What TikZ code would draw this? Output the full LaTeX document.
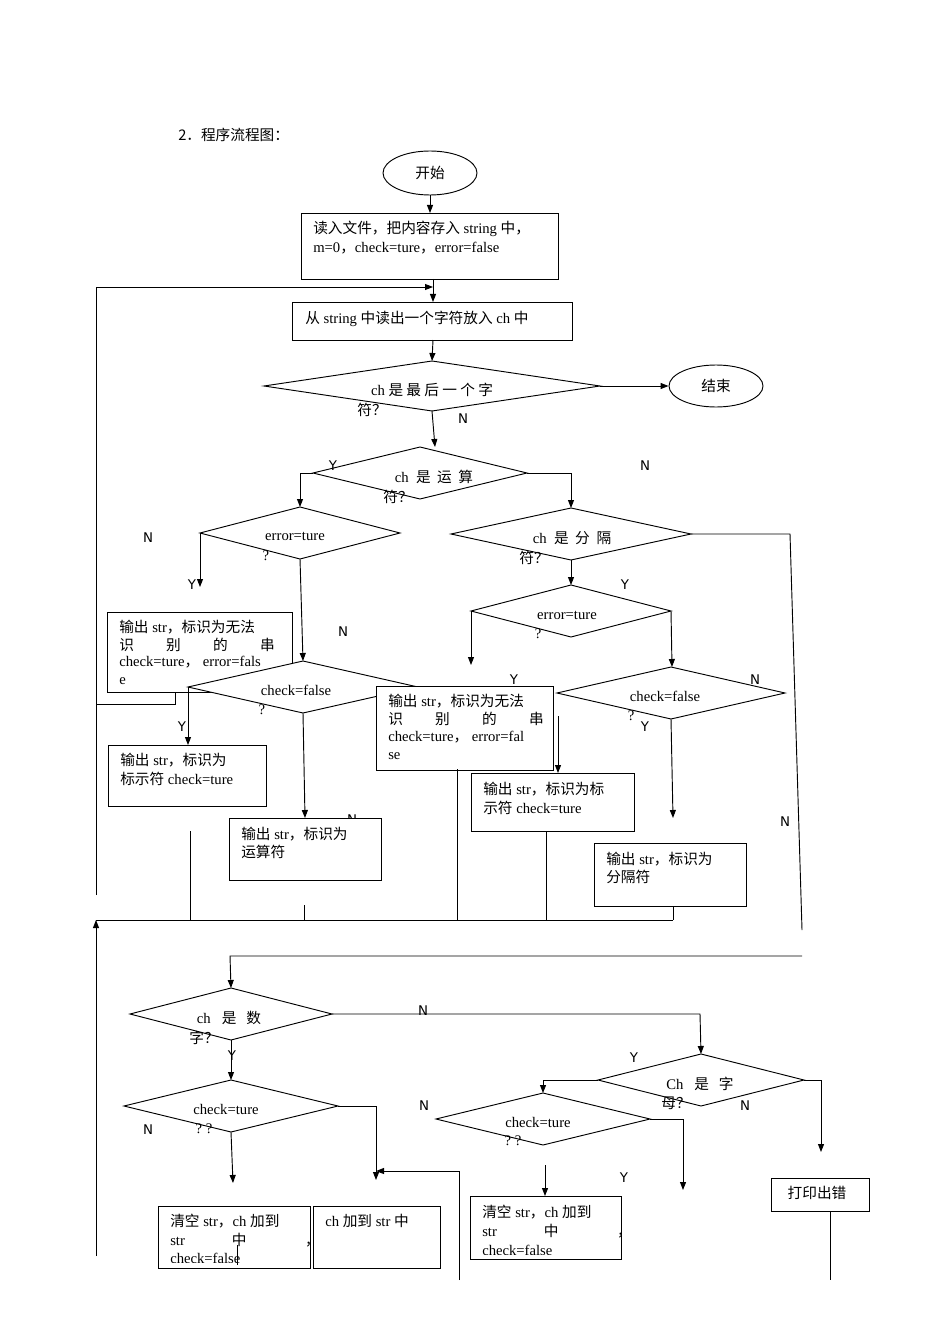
\documentclass[tikz,border=0pt]{standalone}
\usepackage{fontspec}
\setmainfont{Liberation Serif}
\newfontfamily\cjk{Noto Sans CJK SC}
\newfontfamily\lab{DejaVu Sans}
\usetikzlibrary{shapes.geometric,arrows.meta}
\newcommand\zh[1]{{\cjk #1}}
\newcommand\dia[5]{%
 \coordinate (#1-c) at (#2,#3);
 \coordinate (#1-l) at ({#2-#4},#3);\coordinate (#1-r) at ({#2+#4},#3);
 \coordinate (#1-t) at (#2,{#3-#5});\coordinate (#1-b) at (#2,{#3+#5});
 \draw[fill=white,line width=0.7pt] (#1-l)--(#1-t)--(#1-r)--(#1-b)--cycle;}
\begin{document}
\begin{tikzpicture}[x=0.75pt,y=-0.75pt,
 ln/.style={line width=0.7pt},
 ar/.style={ln,-{Triangle[length=6pt,width=4.5pt]}},
 bx/.style={draw,line width=0.7pt,fill=white},
 t/.style={font=\fontsize{11}{13}\selectfont,inner sep=0pt},
 tl/.style={t,anchor=west},
 yn/.style={font=\lab\fontsize{10}{12}\selectfont,inner sep=0pt}]
\useasboundingbox (0,0) rectangle (950,1344);
\node[tl] (title) at (178,135) {\zh{2．程序流程图：}};
% start
\node[draw,ellipse,ln,t,minimum width=94*0.75pt,minimum height=44*0.75pt,inner sep=0] (start) at (430,173) {\zh{开始}};
\draw[bx] (301,213) rectangle (558,279); \coordinate (b1t) at (430,213); \coordinate (b1b) at (433,279);
\node[tl] (b1a) at (313,229) {\zh{读入文件，把内容存入} string \zh{中，}};
\node[tl] (b1c) at (313,248) {m=0\zh{，}check=ture\zh{，}error=false};
\draw[ar] (start) -- (b1t);
\draw[bx] (292,302) rectangle (572,340); \coordinate (b2t) at (433,302); \coordinate (b2b) at (433,340);
\node[tl] (b2) at (305,319) {\zh{从} string \zh{中读出一个字符放入} ch \zh{中}};
\draw[ar] (b1b) -- (b2t);
\draw[ar] (96,895) -- (96,287) -- (433,287);
% diamond 1
\dia{d1}{432}{386}{168}{25}
\draw[ar] (b2b) -- (d1-t);
\node[t] at (432,390) {ch \zh{是 最 后 一 个 字}};
\node[t] at (372,410) {\zh{符？}};
\node[draw,ellipse,ln,t,minimum width=94*0.75pt,minimum height=42*0.75pt,inner sep=0] (end) at (716,386) {\zh{结束}};
\draw[ar] (d1-r) -- (end);
\node[yn] at (463,419) {N};
% diamond 2
\dia{d2}{420}{473}{107}{26}
\draw[ar] (d1-b) -- (435,447);
\node[t] at (434,477) {ch\ \ \zh{是\ \ 运\ \ 算}};
\node[t] at (398,497) {\zh{符？}};
\node[yn] at (333,466) {Y};\node[yn] at (645,466) {N};
% diamond 3
\dia{d3}{300}{533}{100}{26}
\draw[ar] (d2-l) -- (300,473) -- (d3-t);
\node[t] at (295,536) {error=ture};\node[t] at (266,556) {?};
\node[yn] at (148,538) {N};\node[yn] at (192,585) {Y};
\draw[ar] (d3-l) -- (200,587);
% box3
\draw[bx] (107,612) rectangle (292,692);
\node[tl] at (119,627) {\zh{输出} str\zh{，标识为无法}};
\node[tl] at (119,645) {\zh{识\hspace{2.2em}别\hspace{2.2em}的\hspace{2.2em}串}};
\node[tl] at (119,662) {check=ture\zh{，} error=fals};
\node[tl] at (119,681) {e};
\draw[ln] (175,692) -- (175,704) -- (96,704);
% diamond 4
\dia{d4}{303}{687}{115}{26}
\draw[ar] (d3-b) -- (d4-t);
\node[yn] at (343,632) {N};
\node[t] at (296,690) {check=false};\node[t] at (262,710) {?};
\draw[ar] (d4-l) -- (188,745);\node[yn] at (182,727) {Y};
\draw[bx] (108,745) rectangle (266,806);
\node[tl] at (120,760) {\zh{输出} str\zh{，标识为}};
\node[tl] at (120,779) {\zh{标示符} check=ture};
\draw[ar] (d4-b) -- (305,818);
\node[yn] at (352,820) {N};
\draw[bx] (229,818) rectangle (381,880);
\node[tl] at (241,834) {\zh{输出} str\zh{，标识为}};
\node[tl] at (241,852) {\zh{运算符}};
% box4
\draw[bx] (376,686) rectangle (553,770);
\node[tl] at (388,701) {\zh{输出} str\zh{，标识为无法}};
\node[tl] at (388,719) {\zh{识\hspace{2.2em}别\hspace{2.2em}的\hspace{2.2em}串}};
\node[tl] at (388,737) {check=ture\zh{，} error=fal};
\node[tl] at (388,756) {se};
% diamond 5
\dia{d5}{571}{534}{120}{26}
\draw[ar] (d2-r) -- (571,473) -- (d5-t);
\node[t] at (572,538) {ch\ \ \zh{是\ \ 分\ \ 隔}};\node[t] at (534,558) {\zh{符？}};
\draw[ln] (d5-r) -- (790,534) -- (802,930);
\node[yn] at (785,822) {N};
% diamond 6
\dia{d6}{571}{611}{100}{26}
\draw[ar] (d5-b) -- (d6-t);\node[yn] at (625,585) {Y};
\node[t] at (567,615) {error=ture};\node[t] at (538,634) {?};
\draw[ar] (d6-l) -- (471,665);
\draw[ar] (d6-r) -- (672,667);
% diamond 7
\dia{d7}{671}{693}{114}{26}
\node[t] at (665,696) {check=false};\node[t] at (631,716) {?};
\node[yn] at (755,680) {N};\node[yn] at (514,680) {Y};\node[yn] at (645,727) {Y};
\draw[ar] (d7-b) -- (673,818);
\draw[ar] (558,716) -- (558,773);
\draw[bx] (471,773) rectangle (634,831);
\node[tl] at (483,789) {\zh{输出} str\zh{，标识为标}};
\node[tl] at (483,808) {\zh{示符} check=ture};
\draw[bx] (594,843) rectangle (746,906);
\node[tl] at (606,859) {\zh{输出} str\zh{，标识为}};
\node[tl] at (606,877) {\zh{分隔符}};
% collector
\draw[ln] (96,920) -- (673,920);
\draw[ln] (190,831) -- (190,920);\draw[ln] (304,905) -- (304,920);
\draw[ln] (457,769) -- (457,920);\draw[ln] (546,831) -- (546,920);
\draw[ln] (673,906) -- (673,920);
\draw[ar] (96,1256) -- (96,920);
% lower
\dia{d8}{231}{1014}{101}{26}
\draw[ar] (802,956) -- (230,956) -- (d8-t);
\node[t] at (229,1018) {ch\ \ \ \zh{是\ \ \ 数}};\node[t] at (204,1038) {\zh{字？}};
\dia{d10}{701}{1080}{103}{26}
\draw[ar] (d8-r) -- (700,1014) -- (d10-t);\node[yn] at (423,1011) {N};
\dia{d9}{231}{1106}{107}{26}
\draw[ar] (d8-b) -- (d9-t);\node[yn] at (232,1056) {Y};
\node[t] at (226,1109) {check=ture};\node[t] at (204,1129) {?\ ?};
\node[yn] at (148,1130) {N};
\draw[ar] (d9-r) -- (376,1106) -- (376,1180);
\draw[ar] (d9-b) -- (233,1183);
\draw[ar] (459,1280) -- (459,1171) -- (376,1171);
\draw[bx] (158,1206) rectangle (310,1268);
\begin{scope}
\clip (158,1206) rectangle (310,1262);
\node[tl] at (170,1221) {\zh{清空} str\zh{，}ch \zh{加到}};
\node[tl] at (170,1240) {str\hspace{3.2em}\zh{中}\hspace{4em}\zh{，}};
\node[tl] at (170,1258) {check=false};
\end{scope}
\draw[ln] (237,1245) -- (237,1265);
\draw[bx] (313,1206) rectangle (440,1268);
\node[tl] at (325,1221) {ch \zh{加到} str \zh{中}};
\node[t] at (700,1084) {Ch\ \ \ \zh{是\ \ \ 字}};\node[t] at (676,1103) {\zh{母？}};
\node[yn] at (634,1058) {Y};\node[yn] at (745,1106) {N};
\dia{d11}{543}{1119}{107}{26}
\draw[ar] (d10-l) -- (543,1080) -- (d11-t);
\draw[ar] (d10-r) -- (821,1080) -- (821,1152);
\node[t] at (538,1122) {check=ture};\node[t] at (513,1141) {?\ ?};
\node[yn] at (424,1106) {N};\node[yn] at (624,1178) {Y};
\draw[ar] (d11-r) -- (683,1119) -- (683,1190);
\draw[ar] (545,1165) -- (545,1196);
\draw[bx] (470,1196) rectangle (621,1259);
\begin{scope}
\clip (470,1196) rectangle (621,1254);
\node[tl] at (482,1212) {\zh{清空} str\zh{，}ch \zh{加到}};
\node[tl] at (482,1231) {str\hspace{3.2em}\zh{中}\hspace{4em}\zh{，}};
\node[tl] at (482,1250) {check=false};
\end{scope}
\draw[bx] (771,1178) rectangle (869,1211);
\node[t] at (817,1193) {\zh{打印出错}};
\draw[ln] (830,1211) -- (830,1280);
\end{tikzpicture}
\end{document}
